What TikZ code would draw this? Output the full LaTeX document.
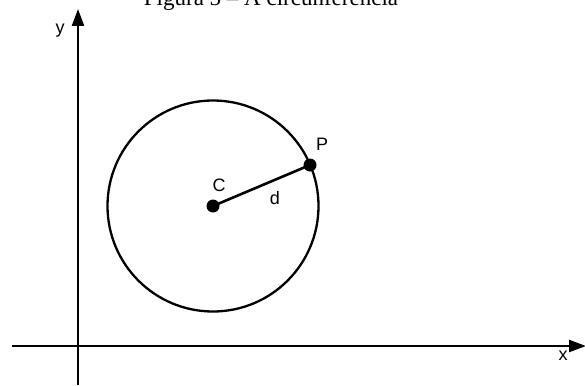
\documentclass[tikz,border=0pt]{standalone}
\usepackage{fontspec}
\setmainfont{Liberation Sans}
\newfontfamily\titlefont{Liberation Serif}
\usetikzlibrary{arrows.meta}
\begin{document}
\begin{tikzpicture}[x=1pt,y=-1pt,
  axis/.style={line width=2.3pt,-{Triangle[length=17pt,width=12pt]}},
  lbl/.style={font=\fontsize{18}{18}\selectfont,inner sep=0pt},
  dot/.style={circle,fill=black,inner sep=0pt,minimum size=13pt}]
\useasboundingbox (0,0) rectangle (585,385);
\node[anchor=base,inner sep=0pt,font=\titlefont\fontsize{23}{23}\selectfont] (title) at (271,6) {Figura 5 – A circunferência};
\coordinate (ybot) at (78,385);
\coordinate (ytop) at (78,9);
\coordinate (xl) at (12,346);
\coordinate (xr) at (586,346);
\draw[axis] (ybot) -- (ytop);
\draw[axis] (xl) -- (xr);
\node[lbl] (ylab) at (60,31) {y};
\node[lbl] (xlab) at (563,356) {x};
\draw[line width=2.3pt] (213,206) circle (105.5);
\node[dot] (C) at (213,206) {};
\node[dot] (P) at (310,165) {};
\draw[line width=2.6pt] (C.center) -- (P.center);
\node[lbl] (Clab) at (219,185) {C};
\node[lbl] (Plab) at (322,144) {P};
\node[lbl] (dlab) at (275,198) {d};
\end{tikzpicture}
\end{document}
